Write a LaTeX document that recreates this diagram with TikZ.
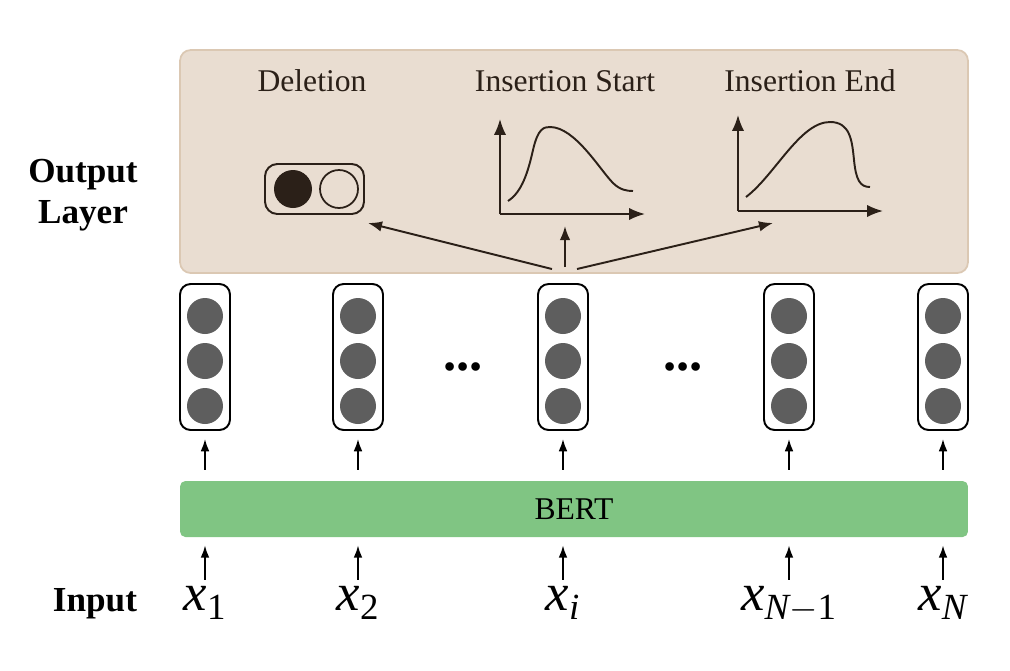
\documentclass[tikz,border=0pt]{standalone}
\usepackage{amsmath}
\usepackage{fontspec}
\setmainfont{Liberation Serif}
\usetikzlibrary{arrows.meta,positioning,calc}
\definecolor{panel}{HTML}{E9DDD1}
\definecolor{rim}{HTML}{DBC8B3}
\definecolor{ink}{HTML}{2B2018}
\definecolor{bertgreen}{HTML}{80C583}
\definecolor{unitgray}{HTML}{5E5E5E}

\begin{document}
\begin{tikzpicture}[
    x=0.02cm, y=-0.02cm,
    outbox/.style={rectangle, rounded corners=6pt, draw=rim, line width=1pt, fill=panel, minimum width=15.76cm, minimum height=4.46cm},
    bertbox/.style={rectangle, rounded corners=3pt, fill=bertgreen, minimum width=15.76cm, minimum height=1.12cm, font=\fontsize{18}{20}\selectfont},
    hidden/.style={rectangle, draw, line width=1.1pt, rounded corners=6pt, minimum width=1cm, minimum height=2.92cm},
    unit/.style={circle, fill=unitgray, minimum size=0.72cm, inner sep=0pt},
    head/.style={font=\fontsize{18}{20}\selectfont, text=ink, anchor=base},
    side/.style={font=\fontsize{20}{23}\selectfont\bfseries, align=center},
    token/.style={font=\fontsize{30}{32}\selectfont, anchor=base},
    up/.style={-{Latex[length=7pt,width=5pt]}, line width=1pt},
    feed/.style={-{Latex[length=8pt,width=6pt]}, ink, line width=1.1pt},
    axis/.style={-{Latex[length=9pt,width=7pt]}, ink, line width=1.1pt},
    curve/.style={ink, line width=1.1pt}
]
\useasboundingbox (0,0) rectangle (1010,670);

% Output layer
\node[outbox] (out) at (574,161.5) {};
\node[side] (outlabel) at (83,195) {Output\\Layer};
\node[head] (delhead) at (312,91) {Deletion};
\node[head] (starthead) at (565,91) {Insertion Start};
\node[head] (endhead) at (810,91) {Insertion End};

% Deletion icon
\node[rectangle, draw=ink, line width=1.1pt, rounded corners=7pt, minimum width=1.98cm, minimum height=1cm] (del) at (314.5,189) {};
\node[circle, fill=ink, minimum size=0.76cm, inner sep=0pt] (keep) at (293,189) {};
\node[circle, draw=ink, line width=1pt, minimum size=0.76cm, inner sep=0pt] (drop) at (339,189) {};

% Insertion start plot
\draw[axis] (500,214) -- (500,119);
\draw[axis] (500,214) -- (645,214);
\draw[curve] (508,201) .. controls (522,192) and (528,172) .. (533,150)
    .. controls (538,128) and (544,127) .. (550,127)
    .. controls (575,127) and (600,170) .. (613,183)
    .. controls (620,190) and (627,191) .. (633,191);

% Insertion end plot
\draw[axis] (738,211) -- (738,115);
\draw[axis] (738,211) -- (883,211);
\draw[curve] (746,197) .. controls (775,175) and (800,122) .. (830,122)
    .. controls (850,122) and (852,140) .. (854,160)
    .. controls (856,180) and (860,187) .. (870,187);

% Heads fed from the middle
\coordinate (hubL) at (552,269);
\coordinate (hubM) at (565,267);
\coordinate (hubR) at (577,269);
\coordinate (delT) at (368,223);
\coordinate (startT) at (565,226);
\coordinate (endT) at (773,223);
\draw[feed] (hubL) -- (delT);
\draw[feed] (hubM) -- (startT);
\draw[feed] (hubR) -- (endT);

% Hidden vectors
\node[hidden] (h1) at (205,357) {};
\node[hidden] (h2) at (358,357) {};
\node[hidden] (hi) at (563,357) {};
\node[hidden] (hm) at (789,357) {};
\node[hidden] (hn) at (943,357) {};
\foreach \c in {h1,h2,hi,hm,hn} {
    \node[unit] at ($(\c.center)+(0,-41)$) {};
    \node[unit] at ($(\c.center)+(0,4)$) {};
    \node[unit] at ($(\c.center)+(0,49)$) {};
}
\node[font=\fontsize{30}{30}\selectfont\bfseries, anchor=base] (dotsA) at (463,370) {...};
\node[font=\fontsize{30}{30}\selectfont\bfseries, anchor=base] (dotsB) at (683,370) {...};

% BERT
\node[bertbox] (bert) at (574,509) {BERT};

% Input tokens
\node[side, anchor=base] (inlabel) at (95,611) {Input};
\node[token] (x1) at (205,610) {$\textit{x}_{\textrm{1}}$};
\node[token] (x2) at (358,610) {$\textit{x}_{\textrm{2}}$};
\node[token] (xi) at (563,610) {$\textit{x}_{\textit{i}}$};
\node[token] (xm) at (789,610) {$\textit{x}_{\textit{N}-\textrm{1}}$};
\node[token] (xn) at (943,610) {$\textit{x}_{\textit{N}}$};

% Arrows
\foreach \c in {1,2,i,m,n} {
    \draw[up, shorten <=0.22cm, shorten >=0.16cm] (bert.north -| h\c) -- (h\c);
    \draw[up, shorten >=0.16cm] (x\c) -- (x\c |- bert.south);
}

\end{tikzpicture}
\end{document}
